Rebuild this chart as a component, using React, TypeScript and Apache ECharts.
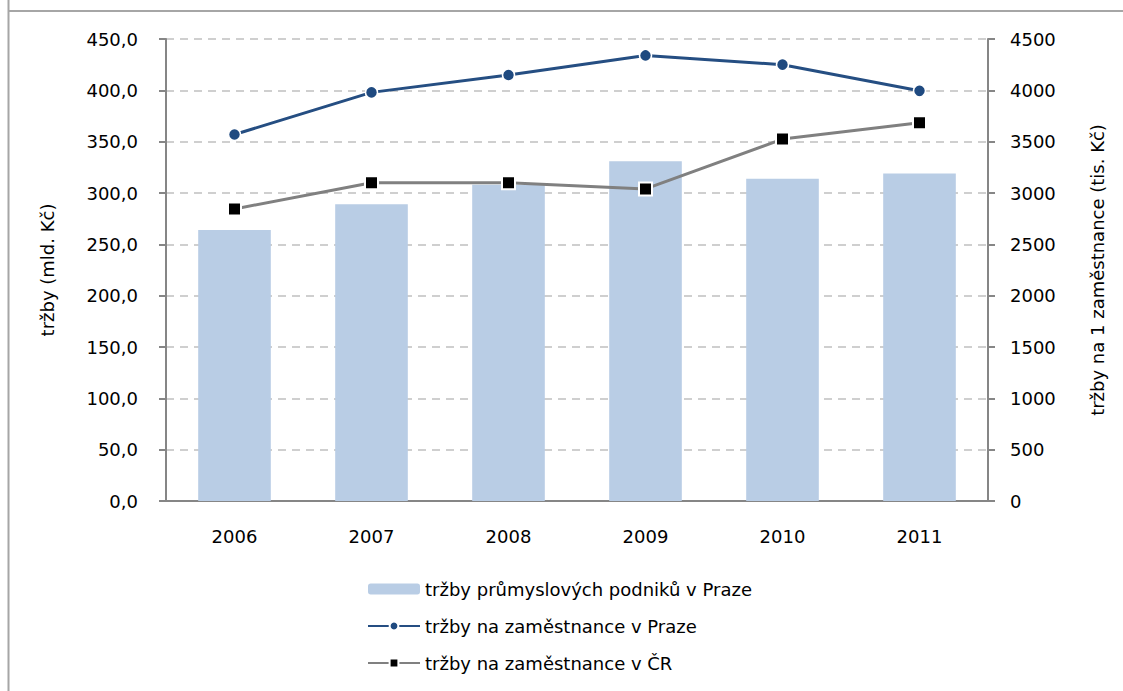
import React, { useEffect, useRef } from "react";
import * as echarts from "echarts";

const years = ["2006", "2007", "2008", "2009", "2010", "2011"];
const salesPrague = [264, 289, 308, 331, 314, 319];
const perEmpPrague = [3570, 3980, 4150, 4340, 4250, 3995];
const perEmpCR = [2845, 3100, 3100, 3040, 3525, 3685];

const nameBars = "tržby průmyslových podniků v Praze";
const namePrague = "tržby na zaměstnance v Praze";
const nameCR = "tržby na zaměstnance v ČR";

const FONT = "'DejaVu Sans', sans-serif";
const FS = 18;

export default function App() {
  const ref = useRef<HTMLDivElement>(null);
  useEffect(() => {
    if (!ref.current) return;
    const chart = echarts.init(ref.current, undefined, { renderer: "svg" });
    chart.setOption({
      animation: false,
      backgroundColor: "#ffffff",
      textStyle: { fontFamily: FONT },
      graphic: [
        { type: "line", shape: { x1: 8.5, y1: 0, x2: 8.5, y2: 691 }, style: { stroke: "#a6a6a6", lineWidth: 2 } },
        { type: "line", shape: { x1: 8, y1: 11, x2: 1123, y2: 11 }, style: { stroke: "#a6a6a6", lineWidth: 2 } },
      ],
      grid: { left: 166, right: 135, top: 39, bottom: 190 },
      legend: {
        orient: "vertical",
        left: 362,
        top: 574,
        itemWidth: 52,
        itemHeight: 11,
        itemGap: 17,
        textStyle: { fontSize: FS, color: "#000", fontFamily: FONT, lineHeight: 20 },
        data: [nameBars, namePrague, nameCR],
      },
      xAxis: {
        type: "category",
        data: years,
        axisLine: { lineStyle: { color: "#868686", width: 2 } },
        axisTick: { alignWithLabel: false, length: 7, lineStyle: { color: "#868686", width: 2 } },
        axisLabel: { fontSize: FS, color: "#000", margin: 26, fontFamily: FONT },
      },
      yAxis: [
        {
          type: "value",
          min: 0,
          max: 450,
          interval: 50,
          name: "tržby (mld. Kč)",
          nameLocation: "middle",
          nameGap: 110,
          nameRotate: 90,
          nameTextStyle: { fontSize: FS, color: "#000", fontFamily: FONT },
          axisLine: { show: true, lineStyle: { color: "#868686", width: 2 } },
          axisTick: { show: true, length: 7, lineStyle: { color: "#868686", width: 2 } },
          axisLabel: {
            fontSize: FS,
            color: "#000",
            margin: 28,
            fontFamily: FONT,
            formatter: (v: number) => v.toFixed(1).replace(".", ","),
          },
          splitLine: { show: true, lineStyle: { color: "#c0c0c0", type: [8, 6], width: 1.5 } },
        },
        {
          type: "value",
          min: 0,
          max: 4500,
          interval: 500,
          name: "tržby na 1 zaměstnance (tis. Kč)",
          nameLocation: "middle",
          nameGap: 100,
          nameRotate: 90,
          nameTextStyle: { fontSize: FS, color: "#000", fontFamily: FONT },
          axisLine: { show: true, lineStyle: { color: "#868686", width: 2 } },
          axisTick: { show: true, length: 7, lineStyle: { color: "#868686", width: 2 } },
          axisLabel: { fontSize: FS, color: "#000", margin: 22, fontFamily: FONT, formatter: (v: number) => String(v) },
          splitLine: { show: false },
        },
      ],
      series: [
        {
          name: nameBars,
          type: "bar",
          data: salesPrague,
          yAxisIndex: 0,
          barWidth: "53%",
          itemStyle: { color: "#b9cde5" },
        },
        {
          name: namePrague,
          type: "line",
          data: perEmpPrague,
          yAxisIndex: 1,
          symbol: "circle",
          symbolSize: 12,
          lineStyle: { color: "#254e82", width: 3 },
          itemStyle: { color: "#1f4a80", borderColor: "#ffffff", borderWidth: 1.5 },
        },
        {
          name: nameCR,
          type: "line",
          data: perEmpCR,
          yAxisIndex: 1,
          symbol: "rect",
          symbolSize: 13,
          lineStyle: { color: "#808080", width: 3 },
          itemStyle: { color: "#000000", borderColor: "#ffffff", borderWidth: 2 },
        },
      ],
    });
    return () => chart.dispose();
  }, []);
  return <div ref={ref} style={{ width: 1123, height: 691, position: "absolute", left: 0, top: 0 }} />;
}
